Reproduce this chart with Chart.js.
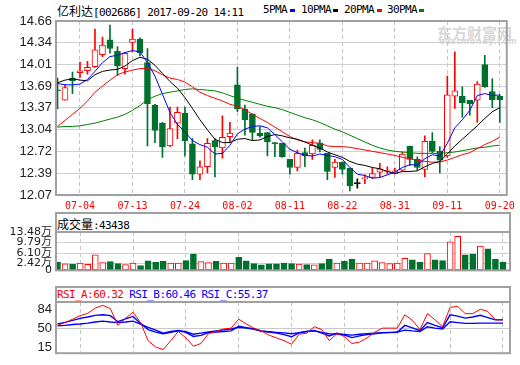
<!DOCTYPE html>
<html>
<head>
<meta charset="utf-8">
<script src="https://cdn.jsdelivr.net/npm/chart.js@4.4.0/dist/chart.umd.min.js"></script>
<style>
body { margin: 0; background: #fff; width: 520px; height: 365px; position: relative; overflow: hidden; }
.abs { position: absolute; white-space: nowrap; }
.cjk { font: 12px 'Noto Sans CJK SC', sans-serif; }
.mono { font: 11px 'DejaVu Sans Mono', monospace; letter-spacing: -0.6px; }
.head { position: absolute; box-sizing: border-box; border: 2px solid #a0a0a0; background: #fff; }
.key { position: absolute; width: 5px; height: 3px; top: 9px; }
canvas { position: absolute; left: 0; }
</style>
</head>
<body>
<div class="abs" style="left:57px;top:2px;line-height:15px;"><span class="cjk">亿利达</span><span class="mono">[002686] 2017-09-20 14:11</span></div>

<div class="abs mono" style="left:263px;top:3px;line-height:13px;">5PMA</div>
<div class="key" style="left:290px;background:#0000ff;"></div>
<div class="abs mono" style="left:301px;top:3px;line-height:13px;">10PMA</div>
<div class="key" style="left:333px;background:#000;"></div>
<div class="abs mono" style="left:344px;top:3px;line-height:13px;">20PMA</div>
<div class="key" style="left:377px;background:#ff0000;"></div>
<div class="abs mono" style="left:387px;top:3px;line-height:13px;">30PMA</div>
<div class="key" style="left:419px;background:#008000;"></div>

<div class="abs" style="left:437px;top:22px;font:bold 15px 'Noto Sans CJK SC';color:#d8d8d8;">东方财富网</div>
<div class="abs" style="left:439px;top:37px;font:bold 8px 'DejaVu Sans';color:#d8d8d8;letter-spacing:0.6px;">eastmoney.com</div>

<div class="head" style="left:55px;top:212px;width:456px;height:21px;"></div>
<div class="abs" style="left:57px;top:215px;line-height:15px;"><span class="cjk">成交量</span><span class="mono">:43438</span></div>

<div class="head" style="left:55px;top:286px;width:456px;height:17px;"></div>
<div class="abs mono" style="left:57px;top:288px;line-height:13px;"><span style="color:#ff0000">RSI_A:60.32</span> <span style="color:#0000ff">RSI_B:60.46</span> <span style="color:#0000ff">RSI_C:55.37</span></div>

<canvas id="kline" width="520" height="214" style="top:0"></canvas>
<canvas id="vol" width="520" height="74" style="top:207px"></canvas>
<canvas id="rsi" width="520" height="85" style="top:280px"></canvas>

<script>
// trading days shown
var dates = ['06-29','06-30','07-03','07-04','07-05','07-06','07-07','07-10','07-11','07-12',
  '07-13','07-14','07-17','07-18','07-19','07-20','07-21','07-24','07-25','07-26',
  '07-27','07-28','07-31','08-01','08-02','08-03','08-04','08-07','08-08','08-09',
  '08-10','08-11','08-14','08-15','08-16','08-17','08-18','08-21','08-22','08-23',
  '08-24','08-25','08-28','08-29','08-30','08-31','09-01','09-04','09-05','09-06',
  '09-07','09-08','09-11','09-12','09-13','09-14','09-15','09-18','09-19','09-20'];
var xTickDates = ['07-04','07-13','07-24','08-02','08-11','08-22','08-31','09-11','09-20'];

var open  = [13.63,13.48,13.81,13.89,13.92,13.98,14.16,14.38,14.21,13.95,
  14.34,14.39,14.04,13.41,13.14,12.80,13.14,13.29,12.83,12.38,
  12.49,12.88,12.77,12.94,13.71,13.35,13.28,12.99,13.00,12.85,
  12.84,12.60,12.48,12.70,12.68,12.84,12.69,12.48,12.56,12.47,
  12.24,12.31,12.33,12.41,12.42,12.39,12.44,12.80,12.60,12.45,
  12.87,12.72,12.65,13.54,13.54,13.48,13.48,14.01,13.61,13.54];
var high  = [13.81,13.71,13.90,14.05,14.06,14.54,14.42,14.60,14.28,14.19,
  14.54,14.41,14.25,13.42,13.15,13.38,13.38,13.38,12.91,12.58,
  12.91,12.91,13.25,13.15,13.97,13.41,13.28,13.09,13.00,12.85,
  12.84,12.60,12.74,12.77,12.89,12.89,12.69,12.60,12.56,12.47,
  12.31,12.37,12.47,12.54,12.49,12.47,12.71,12.80,12.64,12.95,
  13.00,12.79,13.84,14.20,13.68,13.48,13.76,14.15,13.80,13.56];
var low   = [13.35,13.48,13.58,13.82,13.87,13.97,14.13,14.18,13.85,13.87,
  14.20,14.14,12.80,12.85,12.63,12.79,12.91,12.65,12.30,12.30,
  12.40,12.34,12.62,12.85,13.31,12.96,12.89,12.93,12.65,12.64,
  12.63,12.38,12.43,12.49,12.60,12.71,12.30,12.33,12.38,12.13,
  12.17,12.24,12.32,12.34,12.38,12.38,12.42,12.51,12.44,12.34,
  12.70,12.40,12.63,13.36,13.23,13.26,13.15,13.67,13.37,13.15];
var close = [13.62,13.67,13.77,13.92,13.97,14.23,14.30,14.25,13.99,14.18,
  14.39,14.19,13.43,13.03,12.79,13.06,13.30,12.88,12.38,12.49,
  12.84,12.79,12.93,12.99,13.35,13.19,13.00,12.95,12.86,12.83,
  12.64,12.48,12.69,12.65,12.81,12.75,12.42,12.56,12.45,12.21,
  12.24,12.33,12.39,12.46,12.43,12.43,12.68,12.60,12.48,12.87,
  12.72,12.59,13.56,13.62,13.44,13.43,13.72,13.68,13.49,13.49];

var ma5  = [13.73,13.71,13.71,13.72,13.79,13.91,14.04,14.13,14.15,14.19,
  14.22,14.20,14.04,13.84,13.57,13.30,13.12,13.01,12.88,12.82,
  12.78,12.68,12.69,12.81,12.98,13.05,13.09,13.10,13.07,12.97,
  12.86,12.75,12.70,12.66,12.65,12.68,12.66,12.64,12.60,12.48,
  12.38,12.36,12.32,12.33,12.37,12.41,12.48,12.52,12.52,12.61,
  12.67,12.65,12.84,13.07,13.19,13.33,13.55,13.58,13.55,13.56];
var ma10 = [13.74,13.78,13.80,13.78,13.77,13.86,13.91,13.93,13.94,13.99,
  14.07,14.12,14.09,14.00,13.88,13.76,13.66,13.52,13.36,13.19,
  13.04,12.90,12.85,12.85,12.90,12.91,12.88,12.89,12.94,12.97,
  12.95,12.92,12.90,12.86,12.81,12.77,12.71,12.67,12.63,12.57,
  12.53,12.51,12.48,12.46,12.42,12.39,12.42,12.42,12.43,12.49,
  12.54,12.57,12.68,12.80,12.90,13.00,13.10,13.21,13.31,13.37];
var ma20 = [13.09,13.18,13.27,13.36,13.47,13.60,13.69,13.78,13.86,13.90,
  13.93,13.95,13.96,13.92,13.86,13.81,13.79,13.75,13.68,13.60,
  13.55,13.51,13.47,13.42,13.39,13.34,13.27,13.21,13.15,13.08,
  13.01,12.94,12.89,12.86,12.85,12.84,12.80,12.79,12.79,12.78,
  12.76,12.74,12.72,12.70,12.68,12.66,12.63,12.61,12.59,12.57,
  12.56,12.56,12.59,12.63,12.67,12.70,12.76,12.82,12.87,12.93];
var ma30 = [13.08,13.09,13.09,13.10,13.12,13.14,13.17,13.20,13.23,13.27,
  13.33,13.40,13.49,13.54,13.58,13.60,13.62,13.64,13.65,13.64,
  13.63,13.62,13.59,13.55,13.51,13.48,13.45,13.42,13.39,13.37,
  13.34,13.30,13.26,13.22,13.19,13.15,13.10,13.05,13.01,12.96,
  12.91,12.86,12.81,12.77,12.74,12.72,12.71,12.70,12.69,12.69,
  12.69,12.69,12.70,12.71,12.73,12.75,12.77,12.78,12.80,12.81];

// volume in 万
var volume = [2.87,2.29,2.09,2.58,2.09,5.44,2.78,3.07,2.38,2.01,
  2.58,1.72,3.35,2.87,3.15,2.58,2.58,3.44,5.73,3.07,
  2.78,3.15,2.58,2.58,4.58,3.35,2.38,1.92,2.29,2.29,
  2.58,2.38,2.21,2.01,1.92,2.38,4.01,2.58,3.24,4.01,
  2.58,2.58,3.35,2.78,2.38,2.58,4.21,3.72,2.87,5.93,
  3.72,3.44,10.03,11.95,5.44,5.73,8.51,7.54,4.01,2.87];

var rsiA = [55.1,60.2,66.4,73.0,77.1,86.8,91.9,85.8,55.1,67.9,
  79.1,60.2,27.0,15.3,10.7,27.0,43.9,32.1,16.8,21.9,
  39.8,43.9,48.5,50.0,66.4,57.7,50.0,44.9,37.2,32.1,
  27.0,20.4,38.8,40.8,52.6,47.4,27.0,39.8,34.7,21.9,
  24.4,32.1,42.3,50.0,50.0,50.0,74.5,64.3,47.4,76.6,
  65.3,52.6,88.3,89.9,76.6,76.6,84.7,80.7,65.3,65.3];
var rsiB = [57.7,60.7,64.3,67.9,70.4,73.5,74.5,73.0,61.8,66.9,
  71.5,58.7,47.4,42.8,39.8,42.3,44.9,42.3,34.7,36.7,
  41.8,42.8,43.9,44.9,53.6,51.0,48.5,44.9,42.8,40.8,
  38.2,34.2,41.3,43.9,45.9,40.8,35.7,40.8,37.2,32.6,
  35.7,38.2,39.8,41.3,41.8,42.3,55.1,50.5,45.9,60.2,
  55.1,51.0,74.5,72.0,68.4,70.4,73.5,69.4,65.3,65.3];
var rsiC = [54.1,55.1,56.6,57.7,59.2,61.2,62.8,61.2,60.2,61.2,
  62.8,57.2,51.5,46.4,40.8,43.9,45.9,43.4,38.8,40.8,
  42.8,44.9,46.9,48.5,51.5,50.0,48.5,44.4,43.4,42.3,
  41.3,39.8,41.8,43.9,44.9,42.3,39.8,39.3,38.2,37.2,
  38.8,39.8,40.8,41.8,42.3,42.8,46.4,44.9,43.9,52.6,
  50.0,48.5,61.8,60.2,58.7,58.7,59.2,59.2,59.2,59.2];

var priceTicks = [12.07,12.39,12.72,13.04,13.37,13.69,14.01,14.34,14.66];
var volTicks = [0,2.42,6.10,9.79,13.48];
var volTickLabels = ['0','2.42万','6.10万','9.79万','13.48万'];
var rsiTicks = [15,50,84];

var RED = '#ff0000', GREEN = '#00702f';
var AXISFONT = {family: "'Liberation Sans','Noto Sans CJK SC',sans-serif", size: 13};
var VOLFONT = {family: "'DejaVu Sans','Noto Sans CJK SC',sans-serif", size: 11};

function xy(arr) {
  return arr.map(function(v, i) { return {x: i, y: v}; });
}
function upColor(i) {
  if (close[i] > open[i]) return RED;
  if (close[i] < open[i]) return GREEN;
  return '#000';
}

// draws the grey box round the plot area
var framePlugin = {
  id: 'frame',
  afterDraw: function(chart) {
    var a = chart.chartArea, c = chart.ctx;
    c.save();
    c.strokeStyle = '#a0a0a0';
    c.lineWidth = 2;
    c.strokeRect(a.left, a.top, a.right - a.left, a.bottom - a.top);
    c.restore();
  }
};

function xScale(showLabels) {
  return {
    type: 'linear', min: -0.2, max: 59.93, offset: false,
    afterBuildTicks: function(s) {
      s.ticks = xTickDates.map(function(d) { return {value: dates.indexOf(d)}; });
    },
    afterFit: function(s) { s.height = showLabels ? 19 : 0; },
    grid: {color: '#c4c4c4', drawTicks: false, offset: false},
    border: {display: false, dash: [4, 3]},
    ticks: {display: showLabels, color: RED, padding: 5, maxRotation: 0, autoSkip: false,
      font: {family: "'DejaVu Sans Mono',monospace", size: 10},
      callback: function(v) { return dates[v]; }}
  };
}

function yScale(min, max, ticks, labelFn, gridColor, font) {
  return {
    type: 'linear', min: min, max: max,
    afterBuildTicks: function(s) { s.ticks = ticks.map(function(v) { return {value: v}; }); },
    afterFit: function(s) { s.width = 56; },
    grid: {color: gridColor, drawTicks: false},
    border: {display: false},
    ticks: {color: '#222', padding: 4, autoSkip: false, font: font || AXISFONT, callback: labelFn}
  };
}

var baseOptions = function(pad, scales) {
  return {
    responsive: false, animation: false, devicePixelRatio: 1,
    layout: {padding: pad},
    plugins: {legend: {display: false}, tooltip: {enabled: false}},
    scales: scales
  };
};

// Candles + moving averages
new Chart(document.getElementById('kline'), {
  type: 'bar',
  data: {
    datasets: [
      {type: 'line', data: xy(ma5), borderColor: '#0000ff', borderWidth: 1, pointRadius: 0, order: 0},
      {type: 'line', data: xy(ma10), borderColor: '#000', borderWidth: 1, pointRadius: 0, order: 0},
      {type: 'line', data: xy(ma20), borderColor: '#ff0000', borderWidth: 1, pointRadius: 0, order: 0},
      {type: 'line', data: xy(ma30), borderColor: '#008000', borderWidth: 1, pointRadius: 0, order: 0},
      {
        data: open.map(function(o, i) { return {x: i, y: [o, close[i]]}; }),
        backgroundColor: open.map(function(o, i) { return close[i] > o ? '#fff' : upColor(i); }),
        borderColor: open.map(function(o, i) { return upColor(i); }),
        borderWidth: 1, borderSkipped: false, barThickness: 6, minBarLength: 1, grouped: false, order: 1
      },
      {
        data: low.map(function(l, i) { return {x: i, y: [l, high[i]]}; }),
        backgroundColor: low.map(function(l, i) { return upColor(i); }),
        barThickness: 1, grouped: false, order: 2
      }
    ]
  },
  options: baseOptions({top: 21, right: 10, bottom: 0, left: 0}, {
    x: xScale(true),
    y: yScale(12.07, 14.66, priceTicks, function(v) { return v.toFixed(2); }, '#d0d0d0')
  }),
  plugins: [framePlugin]
});

// Volume
new Chart(document.getElementById('vol'), {
  type: 'bar',
  data: {
    datasets: [{
      data: xy(volume),
      backgroundColor: volume.map(function(v, i) { return close[i] >= open[i] ? '#fff' : GREEN; }),
      borderColor: volume.map(function(v, i) { return close[i] >= open[i] ? RED : GREEN; }),
      borderWidth: 1, borderSkipped: false, barThickness: 6
    }]
  },
  options: baseOptions({top: 25, right: 10, bottom: 2, left: 0}, {
    x: xScale(false),
    y: yScale(0, 13.48, volTicks, function(v) { return volTickLabels[volTicks.indexOf(v)]; }, '#d0d0d0', VOLFONT)
  }),
  plugins: [framePlugin]
});

// RSI
new Chart(document.getElementById('rsi'), {
  type: 'line',
  data: {
    datasets: [
      {data: xy(rsiA), borderColor: '#ff0000', borderWidth: 1, pointRadius: 0},
      {data: xy(rsiB), borderColor: '#0000ff', borderWidth: 1.4, pointRadius: 0},
      {data: xy(rsiC), borderColor: '#0000ff', borderWidth: 1.4, pointRadius: 0}
    ]
  },
  options: baseOptions({top: 22, right: 10, bottom: 2, left: 0}, {
    x: xScale(false),
    y: yScale(4, 98, rsiTicks, function(v) { return String(v); },
      function(ctx) { return ctx.tick && ctx.tick.value === 50 ? '#c8c8c8' : 'rgba(0,0,0,0)'; })
  }),
  plugins: [framePlugin]
});
</script>
</body>
</html>
